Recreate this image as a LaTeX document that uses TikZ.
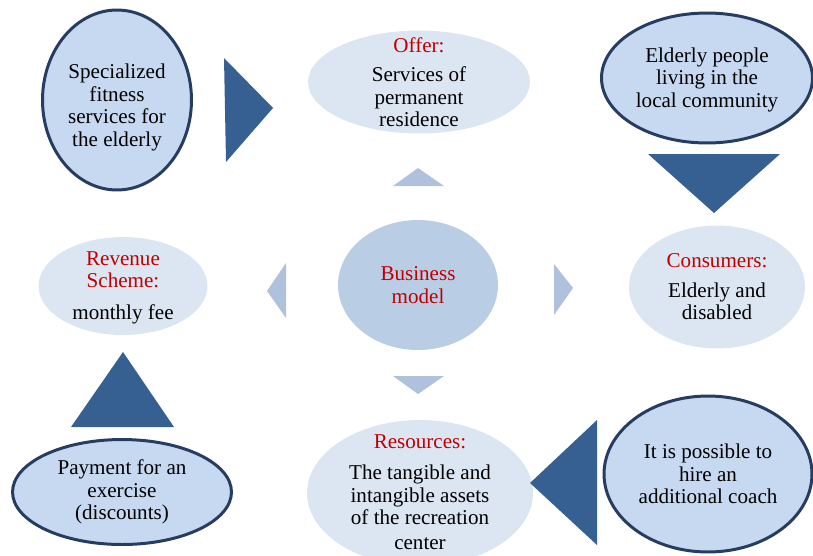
\documentclass[tikz,border=0pt]{standalone}
\usepackage{fontspec}
\setmainfont{Liberation Serif}
\usetikzlibrary{shapes.geometric}
\newcommand{\LINEPT}{1.7pt}
\newcommand{\TITLESKIP}{4pt}
\definecolor{mydark}{RGB}{54,96,146}
\definecolor{myline}{RGB}{38,60,96}
\definecolor{myfill}{RGB}{198,217,241}
\definecolor{mypale}{RGB}{220,230,242}
\definecolor{mymid}{RGB}{185,205,229}
\definecolor{mytri}{RGB}{176,193,221}
\definecolor{myred}{RGB}{192,0,0}

\begin{document}
\begin{tikzpicture}[x=0.02cm,y=-0.02cm,
		outlined/.style={ellipse, draw=myline, line width=\LINEPT, fill=myfill, inner sep=0pt},
		pale/.style={ellipse, fill=mypale, inner sep=0pt},
		txt/.style={align=center, inner sep=0pt, font=\fontsize{12}{12.8}\selectfont}]

		\useasboundingbox (0,0) rectangle (813,555);
		\clip (0,0) rectangle (813,555);

		%% ellipses
		\node[outlined, minimum width=2.98cm, minimum height=3.6cm] (fitness) at (117,100) {};
		\node[pale, minimum width=4.44cm, minimum height=2.06cm] (offer) at (419,82) {};
		\node[outlined, minimum width=4.22cm, minimum height=2.6cm] (elderly) at (707,78) {};
		\node[ellipse, fill=mymid, inner sep=0pt, minimum width=3.2cm, minimum height=2.6cm] (model) at (418,285) {};
		\node[pale, minimum width=3.38cm, minimum height=1.96cm] (revenue) at (123,286) {};
		\node[pale, minimum width=3.52cm, minimum height=2.46cm] (consumers) at (717,287) {};
		\node[outlined, minimum width=4.38cm, minimum height=2.1cm] (payment) at (122,492) {};
		\node[pale, minimum width=4.52cm, minimum height=2.92cm] (resources) at (420,493) {};
		\node[outlined, minimum width=4.16cm, minimum height=3.12cm] (coach) at (708,474) {};

		%% texts
		\node[txt] (fitnesstxt) at ([yshift=-0.15cm]fitness) {Specialized\\fitness\\services for\\the elderly};
		\node[txt] (offertxt) at (offer) {\color{myred}Offer:\\[\TITLESKIP]Services of\\permanent\\residence};
		\node[txt] (elderlytxt) at ([yshift=-0.03cm]elderly) {Elderly people\\living in the\\local community};
		\node[txt] (modeltxt) at (model) {\color{myred}Business\\\color{myred}model};
		\node[txt] (revenuetxt) at ([yshift=-0.03cm]revenue) {\color{myred}Revenue\\\color{myred}Scheme:\\[5pt]monthly fee};
		\node[txt] (consumerstxt) at (consumers) {\color{myred}Consumers:\\[\TITLESKIP]Elderly and\\disabled};
		\node[txt] (paymenttxt) at (payment) {Payment for an\\exercise\\(discounts)};
		\node[txt] (resourcestxt) at ([yshift=0.02cm]resources) {\color{myred}Resources:\\[5pt]The tangible and\\intangible assets\\of the recreation\\[1pt]center};
		\node[txt] (coachtxt) at (coach) {It is possible to\\hire an\\additional coach};

		%% big arrows
		\fill[mydark] (224,58) -- (273,108) -- (226,162) -- cycle;
		\fill[mydark] (648,154) -- (780,154) -- (714,213) -- cycle;
		\fill[mydark] (597,420) -- (530,483) -- (597,545) -- cycle;
		\fill[mydark] (71,427) -- (123,352) -- (174,427) -- cycle;

		%% small arrows
		\fill[mytri] (393,186) -- (418,168) -- (444,186) -- cycle;
		\fill[mytri] (554,264) -- (573,288) -- (554,315) -- cycle;
		\fill[mytri] (393,376) -- (444,376) -- (418,394) -- cycle;
		\fill[mytri] (286,263) -- (267,291) -- (286,318) -- cycle;

	\end{tikzpicture}
\end{document}
